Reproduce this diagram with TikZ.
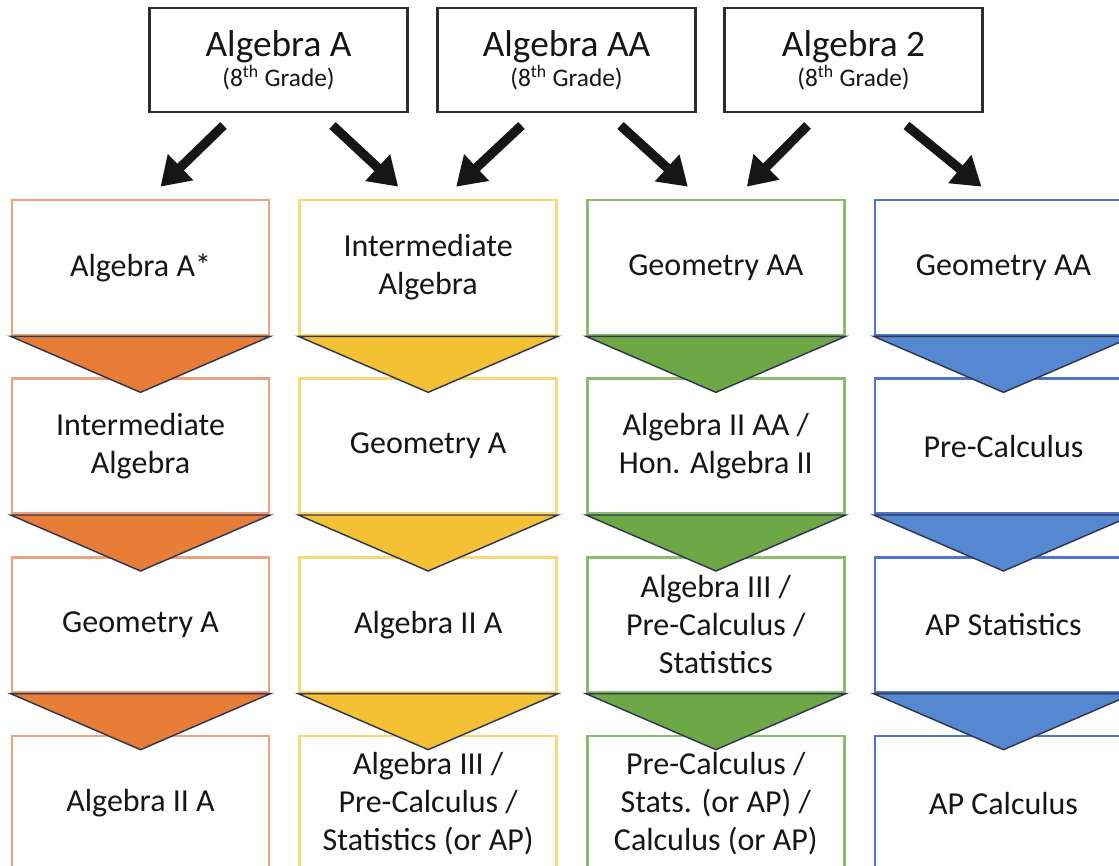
\documentclass[tikz,border=0pt]{standalone}
\usepackage{fontspec}
\setmainfont{Carlito}
\usetikzlibrary{positioning,arrows.meta,calc}

\definecolor{orgline}{RGB}{236,163,124}
\definecolor{orgfill}{RGB}{232,125,55}
\definecolor{ylwline}{RGB}{249,214,118}
\definecolor{ylwfill}{RGB}{245,193,52}
\definecolor{grnline}{RGB}{138,190,108}
\definecolor{grnfill}{RGB}{110,168,70}
\definecolor{bluline}{RGB}{78,118,198}
\definecolor{blufill}{RGB}{86,136,210}
\definecolor{edge}{RGB}{48,56,78}
\definecolor{ink}{RGB}{22,22,22}

\begin{document}
\begin{tikzpicture}[x=0.75pt,y=-0.75pt,
  node distance=30.75pt and 21pt,
  topbox/.style={draw=ink!90,line width=2.2pt,minimum width=193pt,minimum height=78pt,align=center,text=ink,inner sep=0pt},
  colbox/.style={draw=#1,line width=2pt,fill=white,minimum width=192.75pt,minimum height=101.25pt,align=center,text=ink,inner sep=0pt,
    font=\fontsize{24}{28.5}\selectfont},
  chev/.style={fill=#1,draw=edge,line width=1.1pt,line join=miter},
  ar/.style={-{Triangle[width=26pt,length=21pt]},line width=7pt,ink}]
\useasboundingbox (0,0) rectangle (1119,865);

% entry courses
\node[topbox] (a) at (278.5,60) {\fontsize{28}{32}\selectfont Algebra A\\[1pt]\fontsize{19}{22}\selectfont (8\textsuperscript{th} Grade)};
\node[topbox] (aa) at (566.5,60) {\fontsize{28}{32}\selectfont Algebra AA\\[1pt]\fontsize{19}{22}\selectfont (8\textsuperscript{th} Grade)};
\node[topbox] (two) at (853.5,60) {\fontsize{28}{32}\selectfont Algebra 2\\[1pt]\fontsize{19}{22}\selectfont (8\textsuperscript{th} Grade)};

% orange track
\node[colbox=orgline] (o1) at (140.5,267.5) {Algebra A*};
\node[colbox=orgline,below=of o1] (o2) {Intermediate\\Algebra};
\node[colbox=orgline,below=of o2] (o3) {Geometry A};
\node[colbox=orgline,below=of o3] (o4) {Algebra II A};
% yellow track
\node[colbox=ylwline,right=of o1] (y1) {Intermediate\\Algebra};
\node[colbox=ylwline,below=of y1] (y2) {Geometry A};
\node[colbox=ylwline,below=of y2] (y3) {Algebra II A};
\node[colbox=ylwline,below=of y3] (y4) {Algebra III /\\Pre-Calculus /\\Statistics (or AP)};
% green track
\node[colbox=grnline,right=of y1] (g1) {Geometry AA};
\node[colbox=grnline,below=of g1] (g2) {Algebra II AA /\\Hon. Algebra II};
\node[colbox=grnline,below=of g2] (g3) {Algebra III /\\Pre-Calculus /\\Statistics};
\node[colbox=grnline,below=of g3] (g4) {Pre-Calculus /\\Stats. (or AP) /\\Calculus (or AP)};
% blue track
\node[colbox=bluline,right=of g1] (b1) {Geometry AA};
\node[colbox=bluline,below=of b1] (b2) {Pre-Calculus};
\node[colbox=bluline,below=of b2] (b3) {AP Statistics};
\node[colbox=bluline,below=of b3] (b4) {AP Calculus};

% chevrons between steps
\draw[chev=orgfill] (o1.south west) -- (o1.south east) -- ($(o1.south)+(0,56)$) -- cycle;
\draw[chev=orgfill] (o2.south west) -- (o2.south east) -- ($(o2.south)+(0,56)$) -- cycle;
\draw[chev=orgfill] (o3.south west) -- (o3.south east) -- ($(o3.south)+(0,56)$) -- cycle;
\draw[chev=ylwfill] (y1.south west) -- (y1.south east) -- ($(y1.south)+(0,56)$) -- cycle;
\draw[chev=ylwfill] (y2.south west) -- (y2.south east) -- ($(y2.south)+(0,56)$) -- cycle;
\draw[chev=ylwfill] (y3.south west) -- (y3.south east) -- ($(y3.south)+(0,56)$) -- cycle;
\draw[chev=grnfill] (g1.south west) -- (g1.south east) -- ($(g1.south)+(0,56)$) -- cycle;
\draw[chev=grnfill] (g2.south west) -- (g2.south east) -- ($(g2.south)+(0,56)$) -- cycle;
\draw[chev=grnfill] (g3.south west) -- (g3.south east) -- ($(g3.south)+(0,56)$) -- cycle;
\draw[chev=blufill] (b1.south west) -- (b1.south east) -- ($(b1.south)+(0,56)$) -- cycle;
\draw[chev=blufill] (b2.south west) -- (b2.south east) -- ($(b2.south)+(0,56)$) -- cycle;
\draw[chev=blufill] (b3.south west) -- (b3.south east) -- ($(b3.south)+(0,56)$) -- cycle;

% entry arrows
\draw[ar] ($(a.south)+(-55,12)$) -- ($(o1.north)+(20,-12)$);
\draw[ar] ($(a.south)+(54,12)$) -- ($(y1.north)+(-30,-12)$);
\draw[ar] ($(aa.south)+(-45,12)$) -- ($(y1.north)+(28,-12)$);
\draw[ar] ($(aa.south)+(54,12)$) -- ($(g1.north)+(-28,-12)$);
\draw[ar] ($(two.south)+(-46,12)$) -- ($(g1.north)+(31,-12)$);
\draw[ar] ($(two.south)+(53,12)$) -- ($(b1.north)+(-22,-12)$);
\end{tikzpicture}
\end{document}
